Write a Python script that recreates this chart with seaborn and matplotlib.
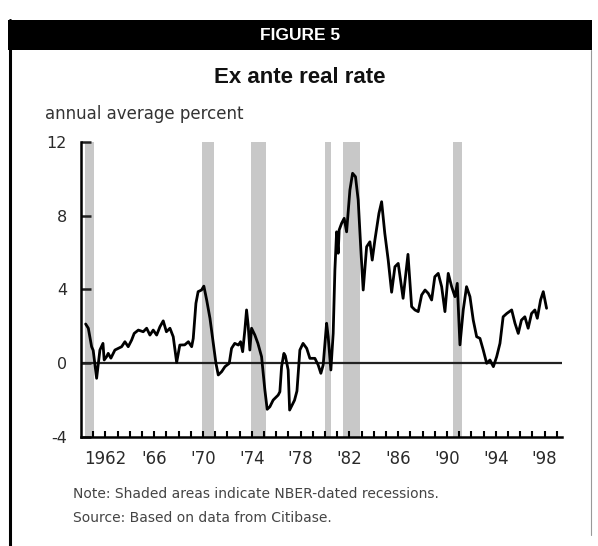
import numpy as np
import pandas as pd
import seaborn as sns
import matplotlib.pyplot as plt
from matplotlib.lines import Line2D
from matplotlib.patches import Rectangle

# Ex ante real rate (year, annual average percent)
years = [1960.38, 1960.6, 1960.87, 1961.0, 1961.28, 1961.55, 1961.8, 1961.9, 1962.1, 1962.23,
         1962.45, 1962.78, 1963.05, 1963.33, 1963.6, 1963.87, 1964.15, 1964.36, 1964.7, 1965.1,
         1965.38, 1965.65, 1965.92, 1966.2, 1966.47, 1966.74, 1967.0, 1967.29, 1967.56, 1967.84,
         1968.1, 1968.5, 1968.8, 1969.07, 1969.2, 1969.42, 1969.6, 1969.88, 1970.07, 1970.3,
         1970.57, 1970.84, 1971.06, 1971.25, 1971.53, 1971.8, 1972.15, 1972.34, 1972.6, 1972.9,
         1973.08, 1973.25, 1973.43, 1973.57, 1973.7, 1973.84, 1973.98, 1974.25, 1974.5, 1974.8,
         1975.07, 1975.26, 1975.48, 1975.75, 1976.16, 1976.3, 1976.44, 1976.63, 1976.75, 1976.98,
         1977.1, 1977.5, 1977.7, 1977.94, 1978.2, 1978.5, 1978.76, 1979.17, 1979.44, 1979.66,
         1979.85, 1980.13, 1980.26, 1980.48, 1980.67, 1980.81, 1980.95, 1981.08, 1981.16, 1981.36,
         1981.57, 1981.77, 1982.04, 1982.26, 1982.5, 1982.72, 1982.94, 1983.13, 1983.41, 1983.68,
         1983.87, 1984.09, 1984.42, 1984.64, 1984.9, 1985.18, 1985.46, 1985.73, 1986.0, 1986.4,
         1986.8, 1987.1, 1987.37, 1987.64, 1987.92, 1988.2, 1988.46, 1988.74, 1989.0, 1989.28,
         1989.56, 1989.83, 1990.1, 1990.38, 1990.65, 1990.84, 1991.06, 1991.33, 1991.6, 1991.88,
         1992.15, 1992.43, 1992.7, 1992.97, 1993.25, 1993.52, 1993.8, 1994.07, 1994.34, 1994.6,
         1994.9, 1995.3, 1995.57, 1995.84, 1996.1, 1996.38, 1996.65, 1996.93, 1997.2, 1997.4,
         1997.67, 1997.89, 1998.16]
rate = [2.13, 1.9, 0.9, 0.7, -0.81, 0.72, 1.08, 0.18, 0.36, 0.54,
        0.28, 0.72, 0.81, 0.9, 1.17, 0.9, 1.26, 1.62, 1.8, 1.71,
        1.9, 1.53, 1.8, 1.53, 1.98, 2.3, 1.71, 1.9, 1.44, 0.05,
        0.99, 1.0, 1.17, 0.9, 1.35, 3.25, 3.88, 3.97, 4.18, 3.43,
        2.44, 1.08, 0.0, -0.63, -0.45, -0.18, 0.0, 0.81, 1.08, 0.99,
        1.17, 0.63, 1.8, 2.89, 2.07, 0.72, 1.9, 1.53, 1.08, 0.36,
        -1.44, -2.49, -2.35, -1.99, -1.72, -1.54, -0.18, 0.54, 0.4, -0.36,
        -2.53, -2.0, -1.5, 0.72, 1.08, 0.81, 0.27, 0.27, -0.09, -0.54,
        -0.09, 2.17, 1.44, -0.36, 1.62, 5.05, 7.12, 5.96, 7.22, 7.58,
        7.85, 7.12, 9.38, 10.29, 10.1, 8.84, 6.13, 3.97, 6.31, 6.58,
        5.59, 6.68, 8.12, 8.75, 7.04, 5.59, 3.85, 5.23, 5.41, 3.52,
        5.9, 3.07, 2.89, 2.8, 3.7, 3.97, 3.79, 3.43, 4.69, 4.87,
        4.15, 2.8, 4.87, 4.15, 3.61, 4.33, 1.0, 2.89, 4.15, 3.61,
        2.34, 1.44, 1.35, 0.72, 0.0, 0.18, -0.18, 0.36, 1.08, 2.52,
        2.7, 2.89, 2.17, 1.62, 2.34, 2.52, 1.9, 2.7, 2.89, 2.44,
        3.43, 3.88, 2.98]

# NBER recessions (start, end)
rec_start = [1960.3, 1969.9, 1973.9, 1980.0, 1981.5, 1990.5]
rec_end = [1961.1, 1970.9, 1975.2, 1980.5, 1982.9, 1991.2]

tick_years = [1962, 1966, 1970, 1974, 1978, 1982, 1986, 1990, 1994, 1998]
tick_labels = ["1962", "'66", "'70", "'74", "'78", "'82", "'86", "'90", "'94", "'98"]
y_ticks = [-4, 0, 4, 8, 12]

df = pd.DataFrame({"year": years, "rate": rate})

sns.set_style("white")
plt.rcParams["font.family"] = ["DejaVu Sans"]
plt.rcParams["axes.unicode_minus"] = False

W, H = 598, 546
fig = plt.figure(figsize=(W / 100, H / 100), dpi=100)
ax = fig.add_axes([81 / W, 1 - 437.2 / H, (561.7 - 81) / W, (437.2 - 141.7) / H])

for s, e in zip(rec_start, rec_end):
    ax.axvspan(s, e, color="#c8c8c8", lw=0, zorder=0)
ax.axhline(0, color="#222222", lw=1.6, zorder=1)

sns.lineplot(data=df, x="year", y="rate", ax=ax, color="black", lw=2.0,
             estimator=None, sort=False, zorder=3)

ax.set_xlim(1960, 1999.4)
ax.set_ylim(-4, 12)
ax.set_xticks(tick_years)
ax.set_xticklabels(tick_labels)
ax.set_xticks(np.arange(1961, 2000), minor=True)
ax.set_yticks(y_ticks)
ax.set_yticklabels([str(v) for v in y_ticks])
ax.set_xlabel("")
ax.set_ylabel("")

# seaborn's white style hides ticks, turn them back on (pointing inward)
ax.tick_params(axis="x", which="both", bottom=True, direction="in", length=4, width=1.5,
               color="black", pad=9, labelsize=12, labelcolor="#2a2a2a")
ax.tick_params(axis="y", left=True, direction="in", length=7, width=1.8, color="#222222",
               pad=10, labelsize=11.5, labelcolor="#2a2a2a")

sns.despine(ax=ax)
for side in ["left", "bottom"]:
    ax.spines[side].set_linewidth(1.8)
    ax.spines[side].set_color("black")

# frame and header
fig.add_artist(Rectangle((8 / W, 1 - 50 / H), 584 / W, 30 / H, transform=fig.transFigure,
                         facecolor="black", edgecolor="none"))
fig.add_artist(Line2D([9.5 / W, 9.5 / W], [1 - 20 / H, 0], transform=fig.transFigure,
                      color="black", lw=2.2))
fig.add_artist(Line2D([590.5 / W, 590.5 / W], [1 - 50 / H, 1 - 535 / H], transform=fig.transFigure,
                      color="#999999", lw=0.8))

fig.text(300 / W, 1 - 35 / H, "FIGURE 5", color="white", fontsize=12.5, fontweight="bold",
         ha="center", va="center", family=["Liberation Sans", "DejaVu Sans"])
fig.text(300 / W, 1 - 78 / H, "Ex ante real rate", color="#111111", fontsize=16, fontweight="bold",
         ha="center", va="center", family=["Liberation Sans", "DejaVu Sans"])
fig.text(45 / W, 1 - 114 / H, "annual average percent", color="#333333", fontsize=12,
         ha="left", va="center")
fig.text(73 / W, 1 - 494 / H, "Note: Shaded areas indicate NBER-dated recessions.",
         color="#444444", fontsize=10, ha="left", va="center")
fig.text(73 / W, 1 - 518 / H, "Source: Based on data from Citibase.",
         color="#444444", fontsize=10, ha="left", va="center")

fig.savefig("out.png", dpi=100)
